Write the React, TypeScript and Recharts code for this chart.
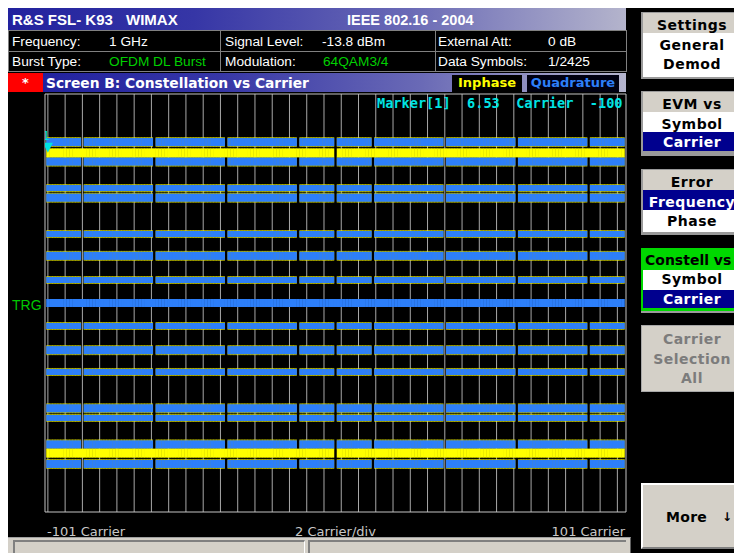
import React from "react";
import { ComposedChart, Scatter, XAxis, YAxis, CartesianGrid, ReferenceArea } from "recharts";

// ---------------- data ----------------
const FIRST_CARRIER = -100;
const LAST_CARRIER = 100;
const pilotCarriers = [-88, -63, -38, -13, 13, 38, 63, 88];
const dcCarriers = [0];
const gridCarriers = [
  -100, -94, -88, -82, -76, -70, -64, -58, -52, -46, -40, -34, -28, -22, -16, -10, -4,
  2, 8, 14, 20, 26, 32, 38, 44, 50, 56, 62, 68, 74, 80, 86, 92, 98,
];
const xDomain = [-101, 101];
const yDomain = [-9.09, 9.09];
const xTicks = [-101, 0, 101];
const xTickLabels = ["-101 Carrier", "2 Carrier/div", "101 Carrier"];

// constellation levels (in 64QAM steps)
const qam64Levels = [7, 5, 3, 1, -1, -3, -5, -7];
const qam16Levels = [6.15, 2.05, -2.05, -6.15];
const qpskLevels = [4.58, -4.58];
const bpskInphaseLevels = [6.53, -6.53];
const bpskQuadratureLevels = [0];

const markerPoint = [{ c: -100, v: 6.53 }];
const markerText = "Marker[1]  6.53  Carrier  -100";

// ---------------- derived tables ----------------
const allCarriers: number[] = [];
for (let c = FIRST_CARRIER; c <= LAST_CARRIER; c++) allCarriers.push(c);
const dataCarriers = allCarriers.filter((c) => !pilotCarriers.includes(c) && !dcCarriers.includes(c));
const nonDcCarriers = allCarriers.filter((c) => !dcCarriers.includes(c));
const points = (levels: number[], carriers: number[]) =>
  levels.flatMap((v) => carriers.map((c) => ({ c, v })));

// ---------------- styles ----------------
const YELLOW = "#ffff00";
const BLUE = "#2d7ff9";
const CYAN = "#00e4e4";
const NAVY = "#00008e";
const GRAY = "#d4d0c8";
const SANS = '"Liberation Sans", Arial, sans-serif';
const DEJAVU = '"DejaVu Sans", Verdana, sans-serif';
const MONO = '"DejaVu Sans Mono", monospace';
const GRAD = "linear-gradient(to right, #22229e 0%, #3636a6 30%, #6a6ab6 65%, #b4b4cc 100%)";

const CHART_W = 619;
const CHART_H = 446;
const AXIS_H = 27;
const MARGIN = { top: 1, right: 1, bottom: 0, left: 37 };
const BAND_MARGIN = { top: 1, right: 1, bottom: AXIS_H, left: 37 };
const PLOT_W = CHART_W - MARGIN.left - MARGIN.right;
const CARRIER_PX = PLOT_W / (xDomain[1] - xDomain[0]);

const qam64Thick = (v: number) => (Math.abs(v) === 7 ? 8 : 6);

const bandShape = (thick: (v: number) => number, extra: number, fill: string, opacity: number) => (p: any) => {
  const h = thick(p.payload.v) + extra;
  return (
    <rect
      x={p.cx - CARRIER_PX / 2 - 0.2}
      y={p.cy - h / 2}
      width={CARRIER_PX + 0.4}
      height={h}
      fill={fill}
      fillOpacity={opacity}
    />
  );
};

const series = [
  { key: "i64", data: points(qam64Levels, dataCarriers), thick: qam64Thick, extra: 2, fill: YELLOW, opacity: 0.6 },
  { key: "iOther", data: points([...qam16Levels, ...qpskLevels], dataCarriers), thick: () => 8, extra: 2, fill: YELLOW, opacity: 0.6 },
  { key: "iBpsk", data: points(bpskInphaseLevels, nonDcCarriers), thick: () => 9, extra: 0, fill: YELLOW, opacity: 1 },
  { key: "q64", data: points(qam64Levels, dataCarriers), thick: qam64Thick, extra: 0, fill: BLUE, opacity: 1 },
  { key: "qOther", data: points([...qam16Levels, ...qpskLevels], dataCarriers), thick: () => 8, extra: 0, fill: BLUE, opacity: 1 },
  { key: "qBpsk", data: points(bpskQuadratureLevels, allCarriers), thick: () => 8, extra: 0, fill: BLUE, opacity: 1 },
];

const markerShape = (p: any) => (
  <g>
    <polygon points={`${p.cx - 5},${p.cy - 10} ${p.cx + 5},${p.cy - 10} ${p.cx},${p.cy}`} fill={CYAN} />
    <text x={p.cx - 2} y={p.cy - 13} fill={CYAN} fontSize={12} fontFamily={MONO} textAnchor="middle">1</text>
  </g>
);

const AxisTick = (props: any) => {
  const { x, y, payload } = props;
  const i = xTicks.indexOf(payload.value);
  const last = xTicks.length - 1;
  const anchor = i === 0 ? "start" : i === last ? "end" : "middle";
  const dx = i === 0 ? 2 : i === last ? -1 : 0;
  return (
    <text x={x + dx} y={y + 24} textAnchor={anchor} fill="#c8c8c8" fontSize={13} fontFamily={DEJAVU}>
      {xTickLabels[i]}
    </text>
  );
};

// background layer: grid + frame + axis labels
function GridLayer() {
  return (
    <ComposedChart width={CHART_W} height={CHART_H} margin={MARGIN}>
      <XAxis
        type="number"
        dataKey="c"
        domain={xDomain}
        ticks={xTicks}
        interval={0}
        axisLine={false}
        tickLine={false}
        tickSize={0}
        tickMargin={0}
        height={AXIS_H}
        tick={<AxisTick />}
        allowDataOverflow
      />
      <YAxis type="number" dataKey="v" domain={yDomain} hide allowDataOverflow />
      <CartesianGrid horizontal={false} verticalValues={gridCarriers} stroke="#a8a8a8" />
      <ReferenceArea x1={xDomain[0]} x2={xDomain[1]} y1={yDomain[0]} y2={yDomain[1]} fill="none" stroke="#c4c4c4" fillOpacity={0} />
      <Scatter data={[]} isAnimationActive={false} />
    </ComposedChart>
  );
}

// foreground layer: constellation bands + marker (same plot box as the grid layer)
function BandLayer() {
  return (
    <ComposedChart width={CHART_W} height={CHART_H} margin={BAND_MARGIN}>
      <XAxis type="number" dataKey="c" domain={xDomain} hide allowDataOverflow />
      <YAxis type="number" dataKey="v" domain={yDomain} hide allowDataOverflow />
      {series.map((s) => (
        <Scatter key={s.key} data={s.data} shape={bandShape(s.thick, s.extra, s.fill, s.opacity)} isAnimationActive={false} />
      ))}
      <Scatter data={markerPoint} shape={markerShape} isAnimationActive={false} />
    </ComposedChart>
  );
}

// ---------------- layout helpers ----------------
const box = (l: number, t: number, w: number, h: number, extra: any = {}): React.CSSProperties => ({
  position: "absolute",
  left: l,
  top: t,
  width: w,
  height: h,
  boxSizing: "border-box",
  ...extra,
});

function T(props: { x: number; y: number; size: number; color: string; font: string; bold?: boolean; ls?: number; w?: number; children: React.ReactNode }) {
  const { x, y, size, color, font, bold, ls, w, children } = props;
  return (
    <div
      style={{
        position: "absolute",
        left: x,
        top: y,
        width: w,
        textAlign: w ? "center" : "left",
        fontSize: size,
        lineHeight: "16px",
        color,
        fontFamily: font,
        fontWeight: bold ? "bold" : "normal",
        whiteSpace: "pre",
        letterSpacing: ls,
      }}
    >
      {children}
    </div>
  );
}

const SK = (text: string, top: number, color = "#000", ls = 0.5) => (
  <T key={text + top} x={641} w={102} y={top} size={14} bold color={color} font={DEJAVU} ls={ls}>
    {text}
  </T>
);

export default function App() {
  return (
    <div style={{ position: "relative", width: 734, height: 553, background: "#fff", overflow: "hidden" }}>
      <style>{"html,body{margin:0;padding:0;overflow:hidden;background:#fff}"}</style>
      <div style={box(8, 8, 726, 545, { background: "#000" })} />

      {/* title bar */}
      <div style={box(8, 8, 618, 22, { background: GRAD })} />
      <T x={12} y={12} size={15} bold color="#fff" font={SANS}>{"R&S FSL- K93"}</T>
      <T x={126} y={12} size={15} bold color="#fff" font={SANS}>WIMAX</T>
      <T x={347} y={12} size={14.5} bold color="#fff" font={SANS}>IEEE 802.16 - 2004</T>

      {/* info table */}
      <div style={box(8, 30, 213, 22, { border: "1px solid #808080" })} />
      <div style={box(220, 30, 216, 22, { border: "1px solid #808080" })} />
      <div style={box(435, 30, 192, 22, { border: "1px solid #808080" })} />
      <div style={box(8, 51, 213, 21, { border: "1px solid #808080" })} />
      <div style={box(220, 51, 216, 21, { border: "1px solid #808080" })} />
      <div style={box(435, 51, 192, 21, { border: "1px solid #808080" })} />
      <T x={12} y={34} size={13.7} color="#fff" font={SANS}>Frequency:</T>
      <T x={109} y={34} size={13.7} color="#fff" font={SANS}>1 GHz</T>
      <T x={225} y={34} size={13.7} color="#fff" font={SANS}>Signal Level:</T>
      <T x={322} y={34} size={13.7} color="#fff" font={SANS}>-13.8 dBm</T>
      <T x={438} y={34} size={13.7} color="#fff" font={SANS}>External Att:</T>
      <T x={548} y={34} size={13.7} color="#fff" font={SANS}>0 dB</T>
      <T x={12} y={54} size={13.7} color="#fff" font={SANS}>Burst Type:</T>
      <T x={109} y={54} size={13.7} color="#00d000" font={SANS}>OFDM DL Burst</T>
      <T x={225} y={54} size={13.7} color="#fff" font={SANS}>Modulation:</T>
      <T x={323} y={54} size={13.7} color="#00d000" font={SANS}>64QAM3/4</T>
      <T x={438} y={54} size={13.7} color="#fff" font={SANS}>Data Symbols:</T>
      <T x={548} y={54} size={13.7} color="#fff" font={SANS}>1/2425</T>

      {/* screen B bar */}
      <div style={box(8, 73, 35, 19, { background: "#ff0000" })} />
      <T x={8} w={35} y={74.5} size={13} bold color="#fff" font={DEJAVU}>*</T>
      <div style={box(43, 73, 583, 19, { background: GRAD })} />
      <T x={46} y={74.5} size={13.8} bold color="#fff" font={DEJAVU}>Screen B: Constellation vs Carrier</T>
      <div style={box(452, 75, 70, 17, { background: "#000" })} />
      <T x={452} w={70} y={74.5} size={13} bold color={YELLOW} font={DEJAVU}>Inphase</T>
      <div style={box(527, 75, 92, 17, { background: "#000010" })} />
      <T x={527} w={92} y={74.5} size={13} bold color={BLUE} font={DEJAVU}>Quadrature</T>

      {/* plot */}
      <div style={box(8, 93, CHART_W, CHART_H, {})}>
        <GridLayer />
      </div>
      <div style={box(8, 93, CHART_W, CHART_H, {})}>
        <BandLayer />
      </div>
      <T x={377} y={94.6} size={13.6} bold color={CYAN} font={MONO}>{markerText}</T>
      <T x={12} y={297} size={14} color="#00c800" font={SANS}>TRG</T>

      {/* status bar */}
      <div style={box(8, 537, 623, 16, { background: GRAY, borderTop: "1px solid #a0a0a0", borderRight: "1px solid #606060" })} />
      <div style={box(13, 540, 292, 13, { background: GRAY, borderTop: "2px solid #808080", borderLeft: "2px solid #808080", borderRight: "1px solid #fff" })} />
      <div style={box(308, 540, 318, 13, { background: GRAY, borderTop: "2px solid #808080", borderLeft: "2px solid #808080" })} />

      {/* softkeys */}
      <div style={box(641, 12, 102, 67, { background: "#9a9a9a" })} />
      <div style={box(643, 13, 100, 20, { background: GRAY })} />
      <div style={box(643, 33, 100, 44, { background: "#fff" })} />
      {SK("Settings", 16.5)}
      {SK("General", 37)}
      {SK("Demod", 56)}

      <div style={box(641, 91, 102, 65, { background: "#9a9a9a" })} />
      <div style={box(643, 92, 100, 20, { background: GRAY })} />
      <div style={box(643, 112, 100, 20, { background: "#fff" })} />
      <div style={box(643, 132, 100, 19, { background: NAVY })} />
      {SK("EVM vs", 95.5)}
      {SK("Symbol", 115.5)}
      {SK("Carrier", 134, "#fff")}

      <div style={box(641, 169, 102, 66, { background: "#9a9a9a" })} />
      <div style={box(643, 170, 100, 20, { background: GRAY })} />
      <div style={box(643, 190, 100, 20, { background: NAVY })} />
      <div style={box(643, 210, 100, 22, { background: "#fff" })} />
      {SK("Error", 174)}
      {SK("Frequency", 194, "#fff")}
      {SK("Phase", 213)}

      <div style={box(641, 248, 102, 65, { background: "#9a9a9a" })} />
      <div style={box(641, 248, 102, 63, { background: "#00d800" })} />
      <div style={box(643, 270, 100, 20, { background: "#fff" })} />
      <div style={box(643, 290, 100, 18, { background: NAVY })} />
      <T x={645} y={252} size={14} bold color="#000" font={DEJAVU}>Constell vs</T>
      {SK("Symbol", 271)}
      {SK("Carrier", 291, "#fff")}

      <div style={box(641, 325, 102, 67, { background: GRAY, border: "1px solid #a8a8a8" })} />
      {SK("Carrier", 331, "#7c7c7c")}
      {SK("Selection", 351, "#7c7c7c")}
      {SK("All", 370, "#7c7c7c")}

      <div style={box(641, 483, 102, 66, { background: GRAY, borderTop: "2px solid #fff", borderLeft: "2px solid #fff", borderBottom: "2px solid #808080" })} />
      <T x={666} y={509} size={14} bold color="#000" font={DEJAVU} ls={0.3}>More</T>
      <T x={722} y={509} size={12} bold color="#000" font={DEJAVU}>↓</T>
    </div>
  );
}
